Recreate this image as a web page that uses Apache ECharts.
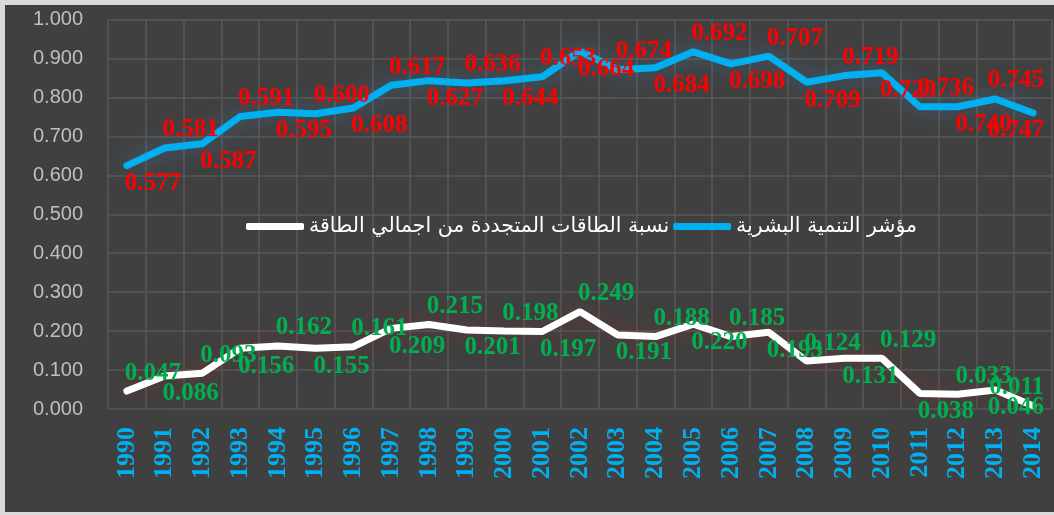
<!DOCTYPE html>
<html>
<head>
<meta charset="utf-8">
<script src="https://cdn.jsdelivr.net/npm/echarts/dist/echarts.min.js"></script>
<style>
  html, body { margin: 0; padding: 0; background: #d9d9d9; }
  #main { width: 1054px; height: 515px; }
</style>
</head>
<body>
<div id="main"></div>
<script>
// 1990 - 2014
const years = ['1990', '1991', '1992', '1993', '1994', '1995', '1996', '1997', '1998', '1999',
  '2000', '2001', '2002', '2003', '2004', '2005', '2006', '2007', '2008', '2009',
  '2010', '2011', '2012', '2013', '2014'];

// مؤشر التنمية البشرية - plotted line
const hdiLine = [0.625, 0.670, 0.681, 0.751, 0.762, 0.758, 0.773, 0.831, 0.843, 0.837,
  0.843, 0.853, 0.919, 0.871, 0.876, 0.917, 0.886, 0.906, 0.839, 0.856,
  0.863, 0.776, 0.776, 0.796, 0.760];
// data labels shown on the chart
const hdiLabels = ['0.577', '0.581', '0.587', '0.591', '0.595', '0.600', '0.608', '0.617', '0.627', '0.636',
  '0.644', '0.653', '0.664', '0.674', '0.684', '0.692', '0.698', '0.707', '0.709', '0.719',
  '0.729', '0.736', '0.740', '0.745', '0.747'];

// نسبة الطاقات المتجددة من اجمالي الطاقة - plotted line
const renewLine = [0.046, 0.085, 0.092, 0.156, 0.162, 0.156, 0.160, 0.207, 0.217, 0.203,
  0.200, 0.199, 0.250, 0.190, 0.186, 0.218, 0.186, 0.197, 0.123, 0.130,
  0.130, 0.040, 0.038, 0.049, 0.008];
const renewLabels = ['0.047', '0.086', '0.093', '0.156', '0.162', '0.155', '0.161', '0.209', '0.215', '0.201',
  '0.198', '0.197', '0.249', '0.191', '0.188', '0.220', '0.185', '0.193', '0.124', '0.131',
  '0.129', '0.038', '0.033', '0.046', '0.011'];

const hdiName = 'مؤشر التنمية البشرية';
const renewName = 'نسبة الطاقات المتجددة من اجمالي الطاقة';

const chart = echarts.init(document.getElementById('main'), null, { renderer: 'canvas' });
chart.setOption(getOption());

// labels alternate below / above the line, like in the sheet
function withLabels(values, firstOnTop) {
  return values.map(function (v, i) {
    const top = (i % 2 === 0) === firstOnTop;
    return { value: v, label: { position: top ? 'top' : 'bottom' } };
  });
}

function labelStyle(color, texts) {
  return {
    show: true,
    color: color,
    fontFamily: 'Liberation Serif',
    fontWeight: 'bold',
    fontSize: 25,
    lineHeight: 25,
    distance: 5,
    formatter: function (p) {
      return texts[p.dataIndex];
    }
  };
}

function getOption() {
  return {
    animation: false,
    backgroundColor: '#d9d9d9',
    graphic: [{
      type: 'rect',
      z: -10,
      shape: { x: 5, y: 5, width: 1049, height: 507 },
      style: { fill: '#404040' }
    }],
    legend: {
      data: [renewName, hdiName],
      left: 241,
      top: 211,
      itemWidth: 58,
      itemHeight: 7,
      itemGap: 4,
      icon: 'roundRect',
      textStyle: {
        color: '#ffffff',
        fontSize: 20.5,
        fontFamily: 'DejaVu Sans'
      }
    },
    grid: {
      left: 108,
      right: 2,
      top: 19.5,
      bottom: 106
    },
    xAxis: {
      type: 'category',
      data: years,
      boundaryGap: true,
      axisLine: { show: false },
      axisTick: { show: false },
      splitLine: {
        show: true,
        lineStyle: { color: '#595959', width: 1.5 }
      },
      axisLabel: {
        rotate: 90,
        margin: 18,
        color: '#00b0f0',
        fontFamily: 'Liberation Serif',
        fontWeight: 'bold',
        fontSize: 26
      }
    },
    yAxis: {
      type: 'value',
      min: 0,
      max: 1,
      interval: 0.1,
      axisLine: { show: false },
      axisTick: { show: false },
      splitLine: {
        lineStyle: { color: '#595959', width: 1.5 }
      },
      axisLabel: {
        margin: 25,
        color: '#bfbfbf',
        fontFamily: 'Liberation Sans',
        fontSize: 20,
        formatter: function (v) {
          return v.toFixed(3);
        }
      }
    },
    // shift labels to the right of their point, but keep them inside the chart
    labelLayout: function (params) {
      const r = params.labelRect;
      const maxX = 1044;
      let dx = 26;
      if (r.x + dx + r.width > maxX) {
        dx = maxX - (r.x + r.width);
      }
      return { dx: dx };
    },
    series: [
      {
        name: renewName,
        type: 'line',
        data: withLabels(renewLine, true),
        symbol: 'circle',
        symbolSize: 1,
        showSymbol: true,
        color: '#ffffff',
        lineStyle: {
          width: 7,
          color: '#ffffff',
          cap: 'round',
          shadowColor: 'rgba(150, 40, 40, 0.55)',
          shadowBlur: 22
        },
        label: labelStyle('#00b050', renewLabels),
        z: 3
      },
      {
        name: hdiName,
        type: 'line',
        data: withLabels(hdiLine, false),
        symbol: 'circle',
        symbolSize: 1,
        showSymbol: true,
        color: '#00b0f0',
        lineStyle: {
          width: 7,
          color: '#00b0f0',
          cap: 'round',
          shadowColor: 'rgba(70, 150, 220, 0.45)',
          shadowBlur: 22
        },
        label: labelStyle('#ff0000', hdiLabels),
        z: 3
      }
    ]
  };
}
</script>
</body>
</html>
